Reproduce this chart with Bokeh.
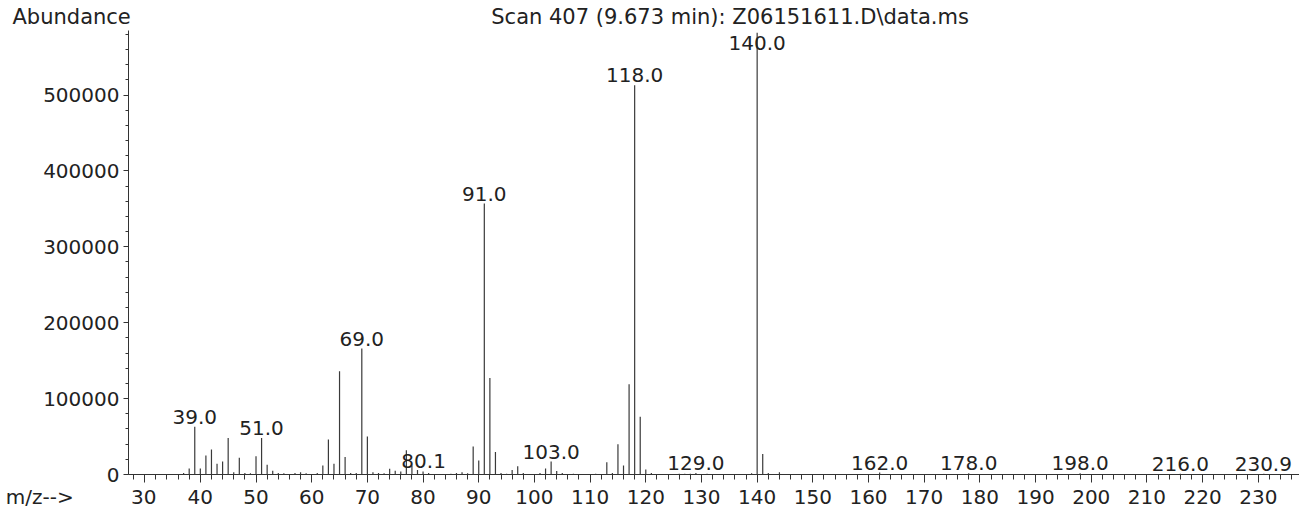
from bokeh.plotting import figure
from bokeh.models import (ColumnDataSource, Range1d, SingleIntervalTicker,
                          BasicTickFormatter, Title)
from bokeh.core.properties import value
from bokeh.embed import file_html
from bokeh.resources import INLINE

# ---- data (m/z, abundance) ----
mz = [37, 38, 39, 40, 41, 42, 43, 44, 45, 46, 47, 48, 49, 50, 51, 52, 53, 54, 55,
      57, 58, 59, 61, 62, 63, 64, 65, 66, 67, 68, 69, 70, 71, 72, 73, 74, 75, 76,
      77, 78, 79, 80, 81, 85, 86, 87, 88, 89, 90, 91, 92, 93, 94, 95, 96, 97, 98,
      101, 102, 103, 104, 105, 107, 111, 113, 114, 115, 116, 117, 118, 119, 120,
      121, 126, 127, 128, 129, 131, 139, 140, 141, 142, 144, 162, 178, 198, 216, 231]
abundance = [2000, 8000, 63000, 8000, 25000, 33000, 14000, 17000, 48000, 3000,
             22000, 2000, 1500, 24000, 48000, 13000, 5000, 2000, 1500,
             2000, 3000, 1500, 2000, 12000, 46000, 14000, 136000, 23000, 2000, 2000,
             166000, 50000, 3000, 2000, 1500, 7500, 5000, 4000,
             32000, 12000, 6000, 4000, 2000, 1000, 2000, 3000, 1500, 37000, 18500,
             357000, 127000, 29500, 2000, 1000, 6000, 11000, 2000,
             2000, 8000, 17000, 4500, 2000, 1000, 1000, 16000, 2000, 40000, 12000,
             119000, 513000, 76000, 6500,
             2000, 1000, 1000, 1000, 2000, 1000, 1500, 582000, 27000, 2000, 3000,
             2500, 1500, 1500, 1000, 1000]

label_mz = [39.0, 51.0, 69.0, 80.1, 91.0, 103.0, 118.0, 129.0, 140.0, 162.0,
            178.0, 198.0, 216.0, 230.9]
label_text = ["39.0", "51.0", "69.0", "80.1", "91.0", "103.0", "118.0", "129.0",
              "140.0", "162.0", "178.0", "198.0", "216.0", "230.9"]

title_text = "Scan 407 (9.673 min): Z06151611.D\\data.ms"
y_title = "Abundance"
x_title = "m/z-->"

# ---- figure ----
X0, X1 = 27.1, 237.4
Y0, Y1 = 0, 585000
FONT = "DejaVu Sans"
TXT = "#222222"
NB = "\u00a0"

p = figure(width=1299, height=511, output_backend="svg", toolbar_location=None,
           x_range=Range1d(X0, X1), y_range=Range1d(Y0, Y1),
           min_border_left=128, min_border_right=0, min_border_top=0,
           min_border_bottom=0)
p.outline_line_color = None
p.xgrid.visible = False
p.ygrid.visible = False
p.background_fill_color = "white"
p.border_fill_color = "white"

# header line: "Abundance" at the far left, scan title further right
head = Title(text=y_title + NB * 54 + title_text, align="left", offset=-116,
             text_font=FONT, text_font_size="21px", text_font_style="normal",
             text_color=TXT, standoff=4)
p.add_layout(head, "above")

# peaks
src = ColumnDataSource(dict(x=mz, y0=[0] * len(mz), y1=abundance))
p.segment(x0="x", y0="y0", x1="x", y1="y1", source=src,
          line_color="#3a3a3a", line_width=1.2)

# peak labels (placed on top of their peak)
peak_of = dict(zip(mz, abundance))
cap = 555000
ly = [min(peak_of.get(round(m), 0), cap) for m in label_mz]
lsrc = ColumnDataSource(dict(x=label_mz, y=ly, t=label_text))
p.text(x="x", y="y", text="t", source=lsrc, text_font=value(FONT),
       text_font_size="20px", text_align="center", text_baseline="bottom",
       y_offset=-3, text_color=TXT)

# axes
xa = p.xaxis[0]
xa.ticker = SingleIntervalTicker(interval=10, num_minor_ticks=5)
xa.major_tick_out = 8
xa.major_tick_in = 0
xa.minor_tick_out = 5
xa.minor_tick_in = 0
xa.major_label_standoff = 2
xa.major_label_text_font = FONT
xa.major_label_text_font_size = "20px"
xa.major_label_text_line_height = 1.0
xa.major_label_text_color = TXT
xa.axis_label = None
xa.axis_label_standoff = 0
xa.axis_line_color = "#333333"
xa.major_tick_line_color = "#333333"
xa.minor_tick_line_color = "#333333"
# the "m/z-->" caption sits on the tick-label row, left of the first label
xa.major_label_overrides = {30: x_title + NB * 9 + "30" + NB * 20}

ya = p.yaxis[0]
ya.ticker = SingleIntervalTicker(interval=100000, num_minor_ticks=5)
ya.formatter = BasicTickFormatter(use_scientific=False)
ya.major_tick_out = 5
ya.major_tick_in = 0
ya.minor_tick_out = 3
ya.minor_tick_in = 0
ya.major_label_standoff = 4
ya.major_label_text_font = FONT
ya.major_label_text_font_size = "20px"
ya.major_label_text_color = TXT
ya.axis_label = None
ya.axis_line_color = "#333333"
ya.major_tick_line_color = "#333333"
ya.minor_tick_line_color = "#333333"

open("out.html", "w").write(file_html(p, INLINE))
